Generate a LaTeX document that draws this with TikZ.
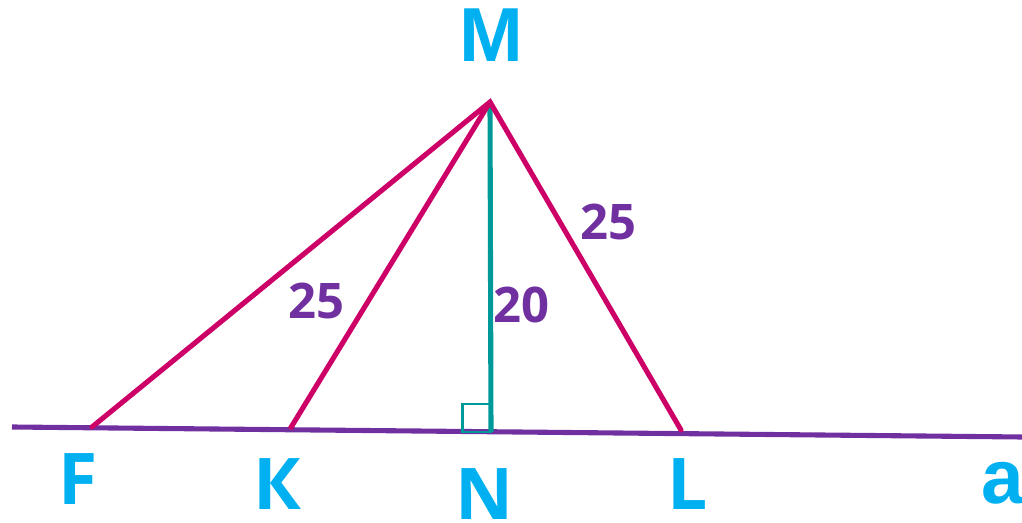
\documentclass[tikz,border=0pt]{standalone}
\usepackage{fontspec}
\newfontfamily\osans{Open Sans}
\newfontfamily\lsans{Liberation Sans}
\definecolor{lblcyan}{HTML}{00B0F0}
\definecolor{numpurple}{HTML}{7030A0}
\definecolor{segmag}{HTML}{CC0066}
\definecolor{perpteal}{HTML}{009999}
\begin{document}
\begin{tikzpicture}[x=0.02cm,y=-0.02cm,
  seg/.style={draw=segmag,line width=2.9pt},
  perp/.style={draw=perpteal,line width=2.9pt},
  lineA/.style={draw=numpurple,line width=2.9pt},
  ptlabel/.style={text=lblcyan,inner sep=0pt,font=\osans\bfseries\fontsize{40.6}{44}\selectfont},
  arlabel/.style={text=lblcyan,inner sep=0pt,font=\lsans\bfseries\fontsize{43.6}{46}\selectfont},
  numlabel/.style={text=numpurple,inner sep=0pt,font=\osans\bfseries\fontsize{27.9}{30}\selectfont}]
\useasboundingbox (0,0) rectangle (1022,523);
% points
\coordinate (M) at (490,102);
\coordinate (F) at (92,427);
\coordinate (K) at (290,429);
\coordinate (N) at (491,432);
\coordinate (L) at (681,430);
\coordinate (A1) at (12,427);
\coordinate (A2) at (1022,437);
% line a
\draw[lineA] (A1) -- (A2);
% right angle
\draw[draw=perpteal,line width=1.7pt] (462.5,432) rectangle (490.5,404);
% perpendicular
\draw[perp] (M) -- (N);
% segments
\draw[seg,line cap=round] (F) -- (M) -- (L);
\draw[seg] (K) -- (M);
% labels
\node[arlabel] (lM) at (491,35) {M};
\node[ptlabel] (lF) at (78,479) {F};
\node[ptlabel] (lK) at (277,484) {К};
\node[ptlabel] (lN) at (484,494) {N};
\node[ptlabel] (lL) at (688,484) {L};
\node[arlabel] (la) at (1003,483) {a};
\node[numlabel] (n1) at (316,301) {25};
\node[numlabel] (n2) at (521,305) {20};
\node[numlabel] (n3) at (608,222) {25};
\end{tikzpicture}
\end{document}
